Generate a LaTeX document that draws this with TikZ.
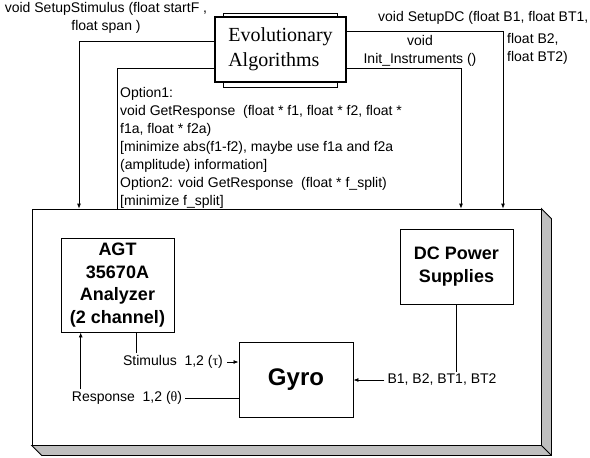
\documentclass[tikz,border=0pt]{standalone}
\usepackage{fontspec}
\setmainfont{Liberation Sans}
\newfontfamily\eafont{Liberation Serif}
\usetikzlibrary{calc,arrows.meta}

\begin{document}
\begin{tikzpicture}[x=1pt, y=-1pt,
        wire/.style={line width=0.8pt},
        arr/.style={wire, -{Latex[length=5pt,width=4pt]}},
        lbl/.style={font=\fontsize{14}{18}\selectfont, inner sep=0pt},
        blk/.style={draw, line width=0.9pt, fill=white, align=center,
            font=\bfseries\fontsize{18}{22.5}\selectfont, inner sep=0pt}]
        \useasboundingbox (0,0) rectangle (590,458);

        % Outer frame with its raised edge
        \node[draw, wire, fill=white, minimum width=509, minimum height=236] (sys) at (286.5,327) {};
        \filldraw[wire, fill=black!25] (sys.south west) -- ++(10,10) -- ($(sys.south east)+(10,10)$)
            -- ($(sys.north east)+(10,10)$) -- (sys.north east) -- (sys.south east) -- cycle;
        \draw[wire] (sys.south east) -- ++(10,10);

        % Evolutionary Algorithms box (stacked look)
        \node[draw, wire, minimum width=114, minimum height=74] (eaBack) at (280,50) {};
        \node[draw, line width=1.6pt, fill=white, minimum width=131, minimum height=65,
            align=left, font=\eafont\fontsize{20}{25}\selectfont] (ea) at (280.5,49.5) {Evolutionary\\Algorithms};

        % Bend points of the wires
        \coordinate (stimK) at (79,41);
        \coordinate (respK) at (117,68);
        \coordinate (initK) at (461,68);
        \coordinate (dcK)   at (503,31);

        % Wires from/to the algorithms
        \draw[arr]  (ea.west |- stimK) -- (stimK) -- (stimK |- sys.north);
        \draw[wire] (ea.west |- respK) -- (respK) -- (respK |- sys.north);
        \draw[arr]  (ea.east |- initK) -- (initK) -- (initK |- sys.north);
        \draw[arr]  (ea.east |- dcK) -- (dcK) -- (dcK |- sys.north);

        % Wire labels
        \node[lbl, align=center] (stimTxt) at (106,18) {void SetupStimulus (float startF ,\\float span )};
        \node[lbl, anchor=west] (dcTxt) at (378,18) {void SetupDC (float B1, float BT1,};
        \node[lbl, anchor=north west, align=left] (dcTxt2) at (507,33) {float B2,\\float BT2)};
        \node[lbl, align=center] (initTxt) at (420,51) {void\\Init\_Instruments ()};
        \node[lbl, anchor=north west, align=left] (optTxt) at (120,87) {Option1:\\
            void GetResponse\ \ (float * f1, float * f2, float *\\
            f1a, float * f2a)\\
            {[}minimize abs(f1-f2), maybe use f1a and f2a\\
            (amplitude) information{]}\\
            Option2: void GetResponse\ \ (float * f\_split)\\
            {[}minimize f\_split{]}};

        % Instruments
        \node[blk, minimum width=113, minimum height=94] (agt) at (117.5,285) {AGT\\35670A\\Analyzer\\(2 channel)};
        \node[blk, minimum width=113, minimum height=75] (dc) at (456.5,266.5) {DC Power\\Supplies};
        \node[blk, minimum width=114, minimum height=75,
            font=\bfseries\fontsize{24}{28}\selectfont] (gyro) at (296,379.5) {Gyro};

        % Signal labels
        \node[lbl] (stim) at (173,362) {Stimulus\ \ 1,2 ({\eafont τ})};
        \node[lbl] (resp) at (127,398) {Response\ \ 1,2 ({\eafont θ})};
        \node[lbl] (bias) at (442,380) {B1, B2, BT1, BT2};

        % Signal wires
        \coordinate (stimUp) at ($(stim.north west)+(13,-2)$);
        \draw[wire] (agt.south -| stimUp) -- (stimUp);
        \draw[arr] ($(stim.east)+(4,0)$) -- (gyro.west |- stim);
        \coordinate (respUp) at ($(resp.north west)+(9,-2)$);
        \draw[arr] (respUp) -- (agt.south -| respUp);
        \draw[wire] ($(resp.east)+(3,0)$) -- (gyro.west |- resp);
        \draw[wire] (dc.south) -- ($(dc.south |- bias.north)+(0,-2)$);
        \draw[arr] ($(bias.west)+(-3,0)$) -- (gyro.east |- bias);
\end{tikzpicture}
\end{document}
